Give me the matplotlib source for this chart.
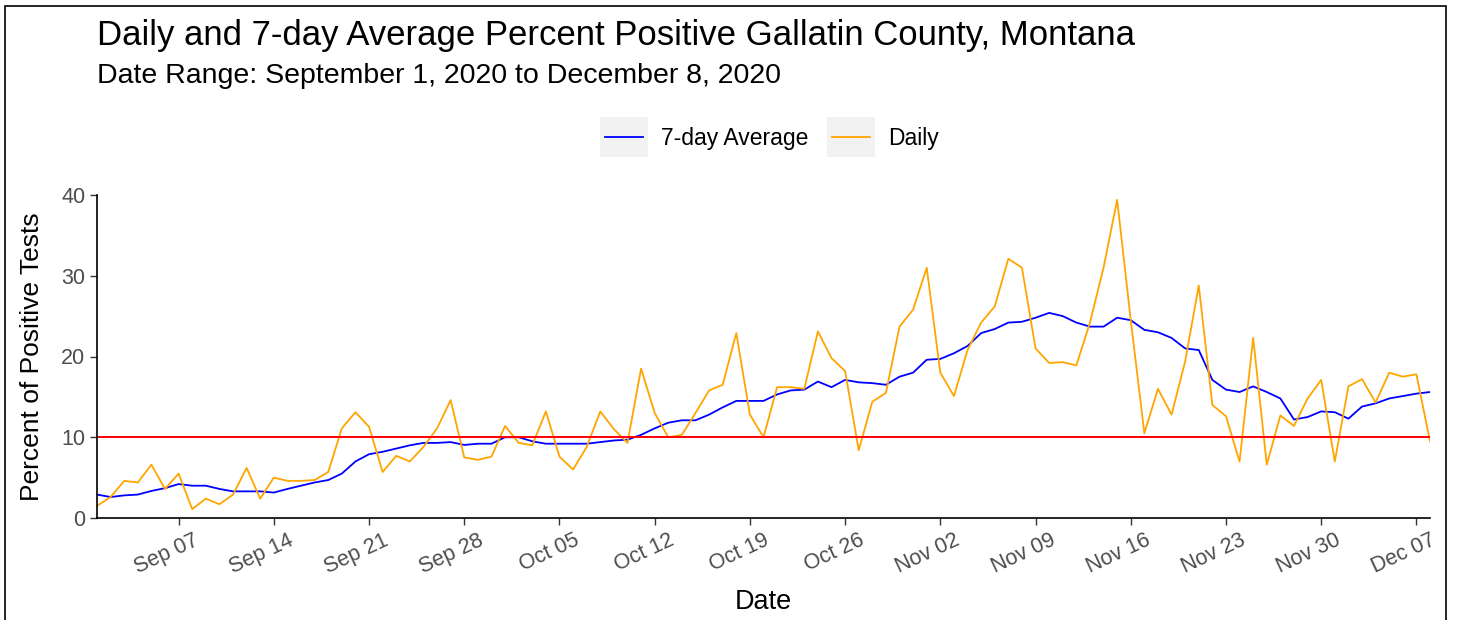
import matplotlib
matplotlib.use("Agg")
import matplotlib.pyplot as plt
import matplotlib.dates as mdates
from matplotlib.lines import Line2D
from matplotlib.patches import Rectangle
from matplotlib.transforms import ScaledTranslation
import pandas as pd

plt.rcParams['font.family'] = ['Liberation Sans', 'DejaVu Sans']

dates = pd.date_range("2020-09-01", "2020-12-08", freq="D")

daily = [1.5, 2.6, 4.6, 4.4, 6.6, 3.6, 5.5, 1.1, 2.4, 1.7,
         2.9, 6.2, 2.4, 5.0, 4.6, 4.6, 4.7, 5.7, 11.1, 13.1,
         11.3, 5.7, 7.7, 7.0, 8.8, 11.1, 14.6, 7.5, 7.2, 7.6,
         11.4, 9.3, 9.0, 13.2, 7.6, 6.0, 8.8, 13.2, 11.0, 9.3,
         18.5, 13.0, 10.0, 10.3, 13.0, 15.8, 16.5, 22.9, 12.8, 10.0,
         16.2, 16.2, 16.0, 23.1, 19.8, 18.2, 8.4, 14.4, 15.5, 23.7,
         25.8, 31.0, 18.0, 15.1, 20.8, 24.2, 26.2, 32.1, 31.0, 21.0,
         19.2, 19.3, 18.9, 24.2, 31.0, 39.4, 24.5, 10.5, 16.0, 12.8,
         19.4, 28.8, 14.0, 12.6, 7.0, 22.3, 6.6, 12.7, 11.4, 14.8,
         17.1, 7.0, 16.3, 17.2, 14.3, 18.0, 17.5, 17.8, 9.5]

avg7 = [2.9, 2.6, 2.8, 2.9, 3.35, 3.7, 4.2, 4.0, 4.0, 3.6,
        3.3, 3.3, 3.3, 3.15, 3.6, 4.0, 4.4, 4.7, 5.5, 7.0,
        7.9, 8.2, 8.6, 9.0, 9.3, 9.3, 9.4, 9.05, 9.2, 9.2,
        10.0, 10.0, 9.5, 9.2, 9.2, 9.2, 9.2, 9.4, 9.6, 9.7,
        10.3, 11.1, 11.8, 12.1, 12.1, 12.8, 13.7, 14.5, 14.5, 14.5,
        15.3, 15.8, 15.9, 16.9, 16.2, 17.1, 16.8, 16.7, 16.5, 17.5,
        18.0, 19.6, 19.7, 20.4, 21.3, 22.9, 23.4, 24.2, 24.3, 24.8,
        25.4, 25.0, 24.2, 23.7, 23.7, 24.8, 24.5, 23.3, 23.0, 22.3,
        21.0, 20.8, 17.1, 15.9, 15.6, 16.3, 15.6, 14.8, 12.2, 12.5,
        13.2, 13.1, 12.3, 13.8, 14.2, 14.8, 15.1, 15.4, 15.6]

threshold = 10
y_ticks = [0, 10, 20, 30, 40]

W, H = 1461, 620
fig = plt.figure(figsize=(W / 100, H / 100), dpi=100)
ax = fig.add_axes([97 / W, 1 - 518 / H, (1430 - 97) / W, (518 - 195) / H])

ax.plot(dates, avg7, color="blue", lw=1.3, label="7-day Average")
ax.plot(dates, daily, color="orange", lw=1.3, label="Daily")
ax.axhline(threshold, color="red", lw=1.4)

ax.set_xlim(dates[0], dates[-1])
ax.set_ylim(0, 40)
ax.set_yticks(y_ticks)
ax.xaxis.set_major_locator(mdates.WeekdayLocator(byweekday=mdates.MO))
ax.xaxis.set_major_formatter(mdates.DateFormatter("%b %d"))

for s in ["top", "right"]:
    ax.spines[s].set_visible(False)
for s in ["left", "bottom"]:
    ax.spines[s].set_linewidth(1.2)
ax.tick_params(axis="both", colors="#333333", length=5, width=1, labelsize=15.5,
               labelcolor="#4D4D4D")
shift = ScaledTranslation(14 / 100, 0, fig.dpi_scale_trans)
for lab in ax.get_xticklabels():
    lab.set_rotation(25)
    lab.set_ha("right")
    lab.set_rotation_mode("anchor")
    lab.set_transform(lab.get_transform() + shift)

ax.set_xlabel("Date", fontsize=19.5, labelpad=8)
ax.set_ylabel("Percent of Positive Tests", fontsize=19, labelpad=12)

fig.text(97 / W, 1 - 36 / H, "Daily and 7-day Average Percent Positive Gallatin County, Montana",
         fontsize=25, va="center", ha="left")
fig.text(97 / W, 1 - 76 / H, "Date Range: September 1, 2020 to December 8, 2020",
         fontsize=20.5, va="center", ha="left")

# legend drawn in ggplot style: grey key boxes above the panel
keys = [(600, "blue", "7-day Average"), (827, "orange", "Daily")]
for x0, col, lab in keys:
    fig.add_artist(Rectangle((x0 / W, 1 - 157 / H), 48 / W, 40 / H,
                             transform=fig.transFigure, facecolor="#F2F2F2",
                             edgecolor="none"))
    fig.add_artist(Line2D([(x0 + 5) / W, (x0 + 43) / W], [1 - 137 / H] * 2,
                          color=col, lw=1.3, transform=fig.transFigure))
    fig.text((x0 + 61) / W, 1 - 138 / H, lab, fontsize=16.5, va="center", ha="left")

# outer frame
fig.add_artist(Rectangle((5 / W, -0.01), 1441 / W, 1 - 6 / H + 0.01,
                         transform=fig.transFigure, facecolor="none",
                         edgecolor="black", lw=1.2))

fig.savefig("out.png", dpi=100)
